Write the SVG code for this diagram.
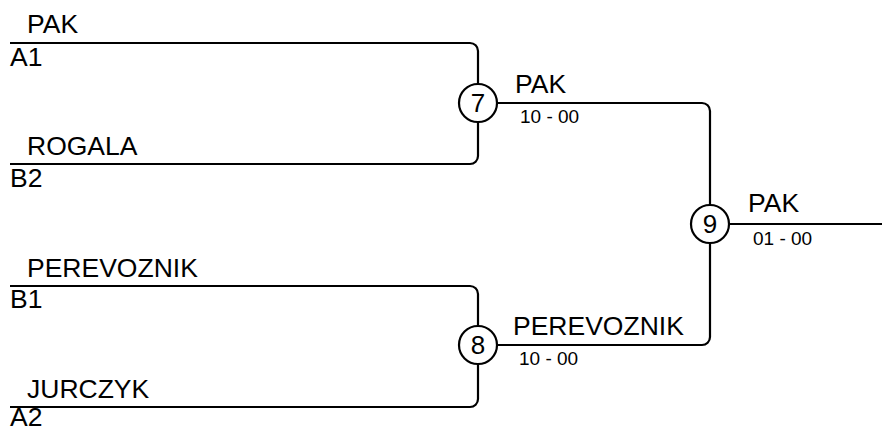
<svg xmlns="http://www.w3.org/2000/svg" width="882" height="432" viewBox="0 0 882 432">
<style>
.ln{fill:none;stroke:#000;stroke-width:2.2}
.c{fill:#fff;stroke:#000;stroke-width:2.2}
.t{font-family:"Liberation Sans",Arial,sans-serif;font-size:26.5px;fill:#000}
.s{font-family:"Liberation Sans",Arial,sans-serif;font-size:19px;fill:#000}
.n{font-family:"Liberation Sans",Arial,sans-serif;font-size:26px;fill:#000;text-anchor:middle}
</style>
<rect width="882" height="432" fill="#fff"/>
<g id="connectors">
<path class="ln" d="M10,43 H470 A8,8 0 0 1 478,51 V84"/>
<path class="ln" d="M10,164 H470 A8,8 0 0 0 478,156 V122"/>
<path class="ln" d="M10,286 H470 A8,8 0 0 1 478,294 V326"/>
<path class="ln" d="M10,407 H470 A8,8 0 0 0 478,399 V364"/>
<path class="ln" d="M497,103 H702 A8,8 0 0 1 710,111 V205"/>
<path class="ln" d="M497,345 H702 A8,8 0 0 0 710,337 V243"/>
<path class="ln" d="M729,224 H882"/>
</g>
<g id="entry-a1"><text class="t" x="27" y="33">PAK</text><text class="t" x="10" y="66">A1</text></g>
<g id="entry-b2"><text class="t" x="27" y="155">ROGALA</text><text class="t" x="10" y="187">B2</text></g>
<g id="entry-b1"><text class="t" x="27" y="277">PEREVOZNIK</text><text class="t" x="10" y="308">B1</text></g>
<g id="entry-a2"><text class="t" x="27" y="398">JURCZYK</text><text class="t" x="10" y="426">A2</text></g>
<g id="match-7"><circle class="c" cx="478" cy="103" r="19"/><text class="n" x="478" y="112">7</text><text class="t" x="515" y="93">PAK</text><text class="s" x="520" y="123">10 - 00</text></g>
<g id="match-8"><circle class="c" cx="478" cy="345" r="19"/><text class="n" x="478" y="354">8</text><text class="t" x="513" y="335">PEREVOZNIK</text><text class="s" x="519" y="365">10 - 00</text></g>
<g id="match-9"><circle class="c" cx="710" cy="224" r="19"/><text class="n" x="710" y="233">9</text><text class="t" x="748" y="212">PAK</text><text class="s" x="753" y="245">01 - 00</text></g>
</svg>
